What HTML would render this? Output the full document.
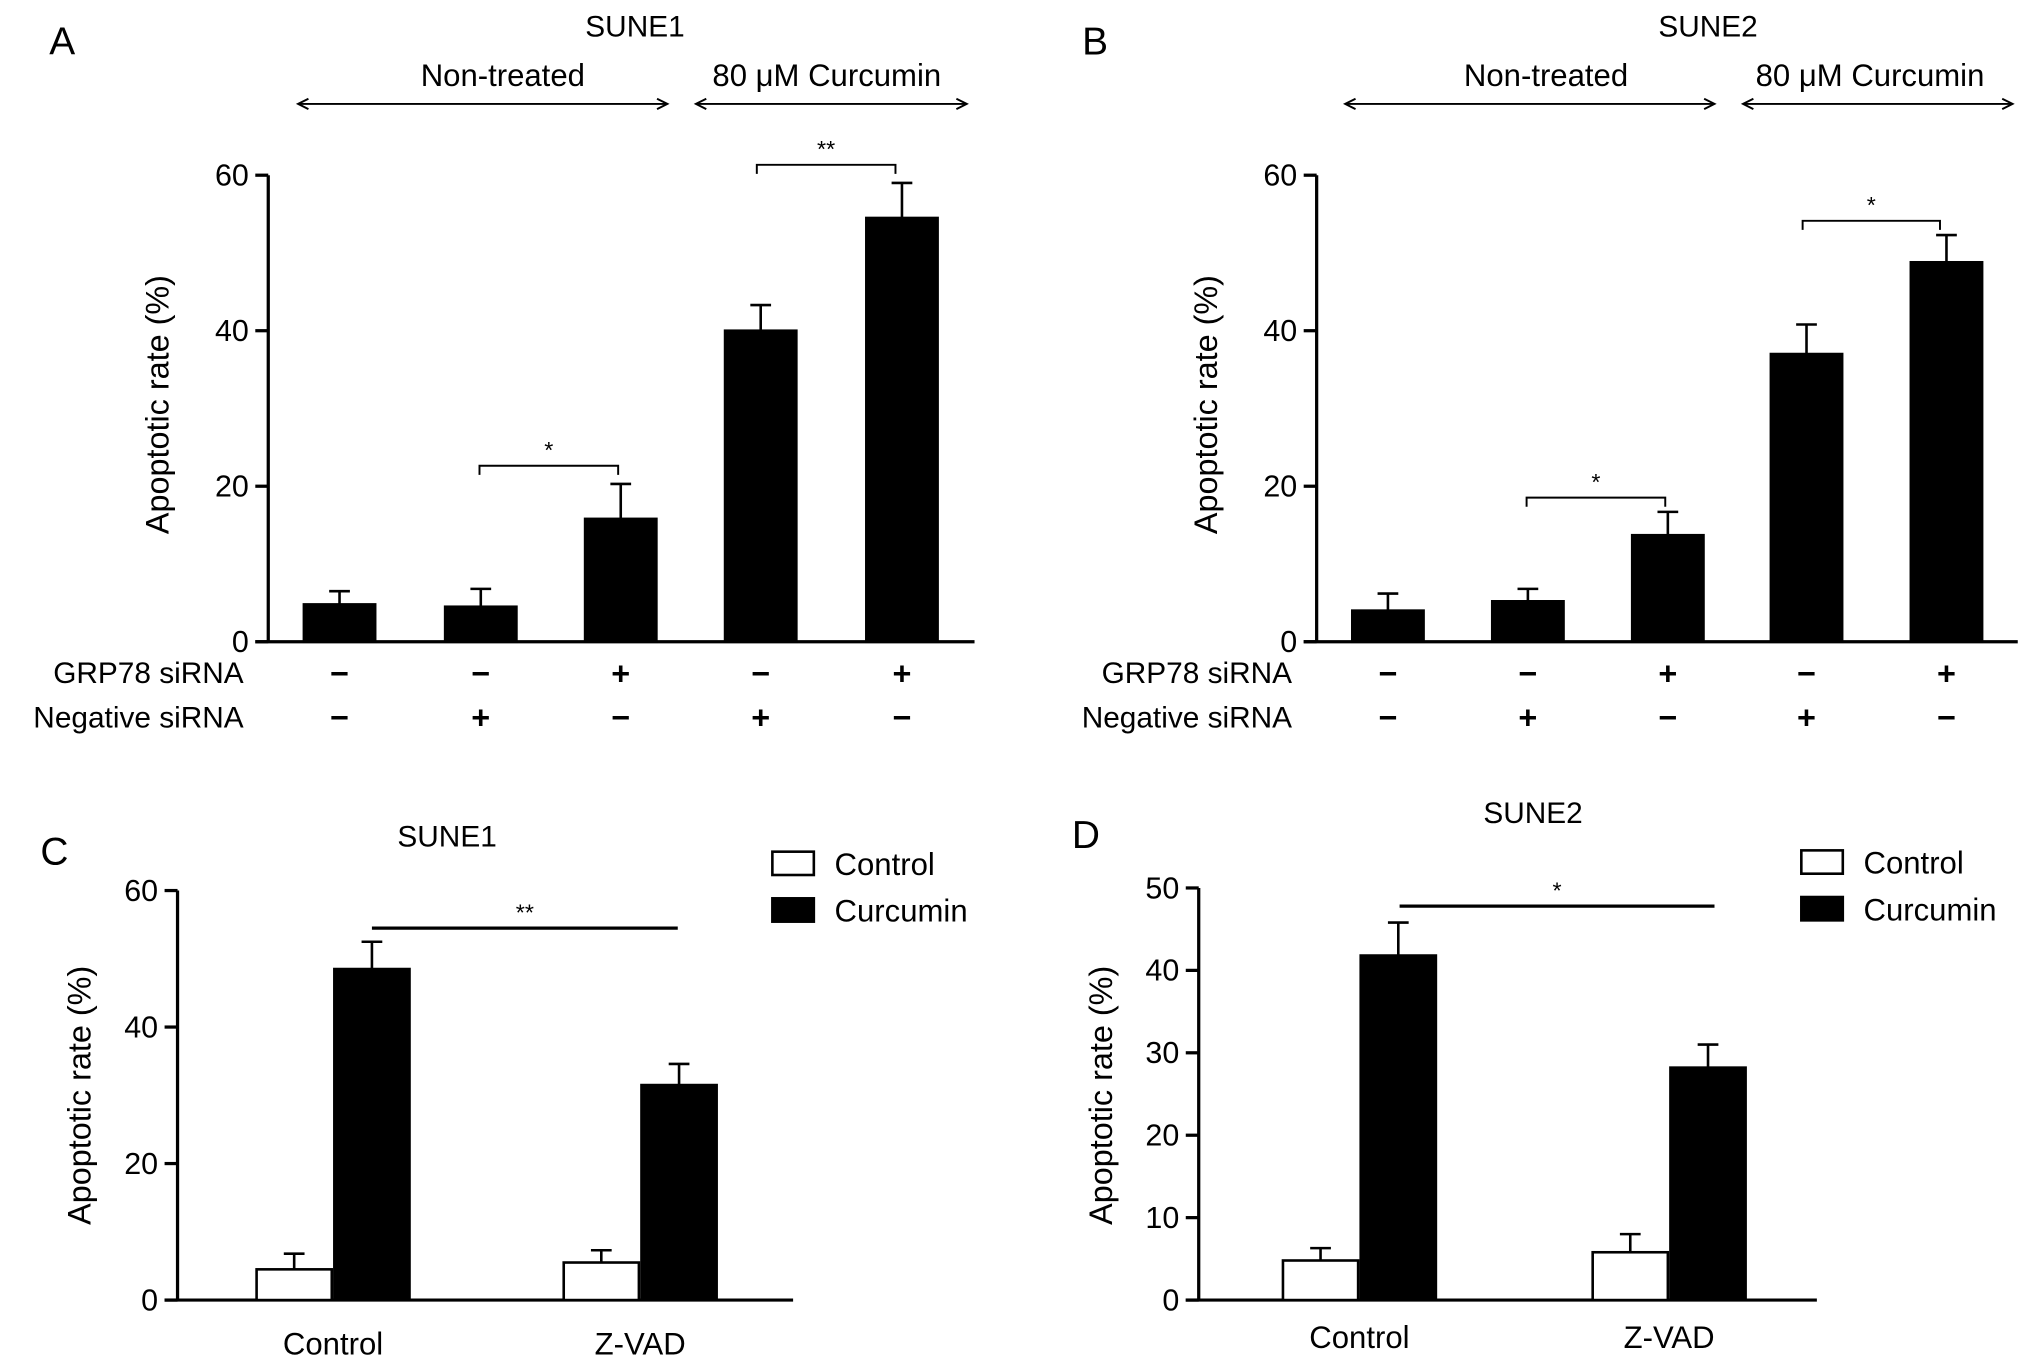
<!DOCTYPE html>
<html><head><meta charset="utf-8"><style>
html,body{margin:0;padding:0;background:#fff;}
svg{display:block;font-family:"Liberation Sans",Arial,sans-serif;}
</style></head><body>
<svg id="fig" width="2032" height="1369" viewBox="0 0 1568 1056" xmlns="http://www.w3.org/2000/svg">
<g id="root"></g>
</svg>
<script>
// Panel A data
const aValues=[4.8,4.5,15.8,40,54.5];
const aErrors=[1.7,2.3,4.5,3.3,4.5];
const aGrp=['−','−','+','−','+'];
const aNeg=['−','+','−','+','−'];
const aTicks=[0,20,40,60];
// Panel B data
const bValues=[4,5.2,13.7,37,48.8];
const bErrors=[2.2,1.6,3.0,3.8,3.5];
const bGrp=['−','−','+','−','+'];
const bNeg=['−','+','−','+','−'];
const bTicks=[0,20,40,60];
// Panel C data
const cCategories=['Control','Z-VAD'];
const cControl=[4.5,5.5];
const cControlErr=[2.3,1.8];
const cCurcumin=[48.5,31.5];
const cCurcuminErr=[4,3.1];
const cTicks=[0,20,40,60];
// Panel D data
const dCategories=['Control','Z-VAD'];
const dControl=[4.8,5.8];
const dControlErr=[1.5,2.2];
const dCurcumin=[41.8,28.2];
const dCurcuminErr=[4,2.8];
const dTicks=[0,10,20,30,40,50];

const NS='http://www.w3.org/2000/svg';
const root=document.getElementById('root');
function el(tag,attrs,parent,txt){const e=document.createElementNS(NS,tag);for(const k in attrs)e.setAttribute(k,attrs[k]);if(txt!==undefined)e.textContent=txt;(parent||root).appendChild(e);return e;}
function txt(x,y,s,size,anchor,name,parent){const t=el('text',{x:x,y:y,'font-size':size,'text-anchor':anchor||'middle',fill:'#000'},parent,s);


return t;}
function line(x1,y1,x2,y2,w,parent){return el('line',{x1,y1,x2,y2,stroke:'#000','stroke-width':w||2},parent);}

function axes(g,x0,y0,yTop,xEnd,max,ticks){
  const ys=v=>y0-(v/max)*(y0-yTop);
  const ya=line(x0,y0,x0,yTop,2.5,g);
  
  
  const xa=line(x0-10,y0,xEnd,y0,2.5,g);
  
  
  ticks.forEach(t=>{line(x0-10,ys(t),x0,ys(t),2.5,g);txt(x0-15,ys(t)+8,String(t),23.5,'end','y-tick-label',g);});
  return ys;
}
function bar(g,cx,w,v,e,ys,fill,name){
  const y0=ys(0),yt=ys(v);
  const r=el('rect',{x:cx-w/2,y:yt,width:w,height:y0-yt,fill:fill,stroke:'#000','stroke-width':2},g);
  
  
  const ye=ys(v+e);
  line(cx,yt,cx,ye,2,g);line(cx-8,ye,cx+8,ye,2,g);
}
function ylabel(g,x,y,s){const t=el('text',{x:0,y:0,'font-size':25,'text-anchor':'middle',transform:`translate(${x},${y}) rotate(-90)`},g,s);

}
function arrow(g,x1,x2,y){line(x1,y,x2,y,1.5,g);
  el('path',{d:`M${x1+8},${y-4} L${x1},${y} L${x1+8},${y+4}`,fill:'none',stroke:'#000','stroke-width':1.5},g);
  el('path',{d:`M${x2-8},${y-4} L${x2},${y} L${x2-8},${y+4}`,fill:'none',stroke:'#000','stroke-width':1.5},g);}
function bracket(g,x1,x2,y,star,ys){el('path',{d:`M${x1},${y+7} L${x1},${y} L${x2},${y} L${x2},${y+7}`,fill:'none',stroke:'#000','stroke-width':1.5},g);
  txt((x1+x2)/2,y-6,star,18,'middle','significance-marker',g);}

function panelTop(name,letter,lx,title,tx,x0,xEnd,centers,vals,errs,grp,neg,ticks,ntx,narrow,ctx,carrow,br1,br2,labelX){
  const g=el('g',{});
  
  
  txt(lx,42,letter,30,'middle','panel-letter',g);
  txt(tx,28,title,23,'middle','panel-title',g);
  txt(ntx,66,'Non-treated',24,'middle','group-label',g);
  arrow(g,narrow[0],narrow[1],80);
  txt(ctx,66,'80 μM Curcumin',24,'middle','group-label',g);
  arrow(g,carrow[0],carrow[1],80);
  const ys=axes(g,x0,495,135,xEnd,60,ticks);
  ylabel(g,x0-77,312,'Apoptotic rate (%)');
  centers.forEach((c,i)=>{bar(g,c,55,vals[i],errs[i],ys,'#000','bar-'+(i+1));
    const s1=txt(c,528,grp[i],25,'middle','grp78-sign',g);s1.setAttribute('font-weight','bold');
    const s2=txt(c,562,neg[i],25,'middle','negative-sign',g);s2.setAttribute('font-weight','bold');});
  txt(labelX,527,'GRP78 siRNA',23,'end','grp78-row-label',g);
  txt(labelX,561,'Negative siRNA',23,'end','negative-row-label',g);
  bracket(g,centers[1]-1,centers[2]-2,ys(vals[2]+errs[2])-nbOff,'*',ys);
  bracket(g,centers[3]-3,centers[4]-5,ys(vals[4]+errs[4])-nbOff,br2,ys);
}
let nbOff=14;
panelTop('panel-a','A',48,'SUNE1',490,207,752,[262,371,479,587,696],aValues,aErrors,aGrp,aNeg,aTicks,388,[230,515],638,[537,746],'*','**',188);
nbOff=11;
panelTop('panel-b','B',845,'SUNE2',1318,1016,1557,[1071,1179,1287,1394,1502],bValues,bErrors,bGrp,bNeg,bTicks,1193,[1038,1323],1443,[1345,1553],'*','*',997);

function panelBottom(name,letter,lx,ly,title,tx,ty,x0,yTop,xEnd,max,ticks,cats,ctl,ctlE,cur,curE,cx,legX,legY,sig,sigX1,sigX2,sigY,catY){
  const g=el('g',{});
  
  
  txt(lx,ly,letter,30,'middle','panel-letter',g);
  txt(tx,ty,title,23,'middle','panel-title',g);
  const ys=axes(g,x0,1003,yTop,xEnd,max,ticks);
  ylabel(g,x0-67,845,'Apoptotic rate (%)');
  cats.forEach((c,i)=>{bar(g,cx[i]-30,58,ctl[i],ctlE[i],ys,'#fff','control-bar-'+c);
    bar(g,cx[i]+30,58,cur[i],curE[i],ys,'#000','curcumin-bar-'+c);
    txt(cx[i],catY,c,24,'middle','x-category-label',g);});
  const sl=line(sigX1,sigY,sigX2,sigY,2.5,g);
  
  
  txt((sigX1+sigX2)/2,sigY-6,sig,18,'middle','significance-marker',g);
  const lg=el('g',{},g);
  
  
  el('rect',{x:legX,y:legY,width:32,height:18,fill:'#fff',stroke:'#000','stroke-width':2},lg);
  txt(legX+48,legY+18,'Control',24,'start','legend-entry-control',lg);
  el('rect',{x:legX,y:legY+36,width:32,height:18,fill:'#000',stroke:'#000','stroke-width':2},lg);
  txt(legX+48,legY+54,'Curcumin',24,'start','legend-entry-curcumin',lg);
}
panelBottom('panel-c','C',42,667,'SUNE1',345,653,137,687,612,60,cTicks,cCategories,cControl,cControlErr,cCurcumin,cCurcuminErr,[257,494],596,657,'**',287,523,716,1045);
panelBottom('panel-d','D',838,654,'SUNE2',1183,635,925,685,1402,50,dTicks,dCategories,dControl,dControlErr,dCurcumin,dCurcuminErr,[1049,1288],1390,656,'*',1080,1323,699,1040);
</script>
</body></html>
